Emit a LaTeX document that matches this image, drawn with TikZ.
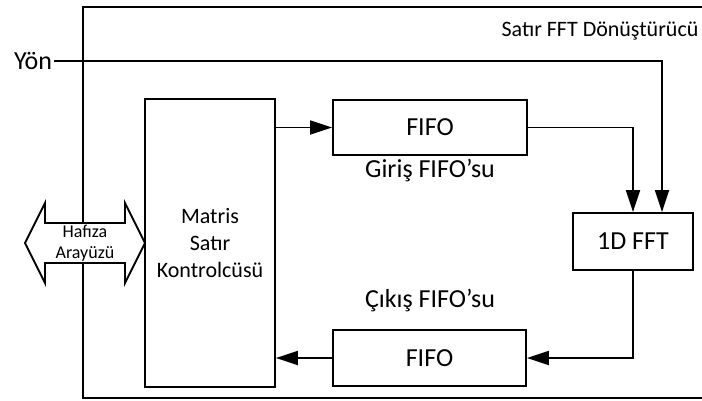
\documentclass[tikz,border=0pt]{standalone}
\usepackage{fontspec}
\setmainfont{Carlito}
\usetikzlibrary{arrows.meta}
\begin{document}
\begin{tikzpicture}[x=1pt,y=-1pt,
  line width=1.8pt,
  blk/.style={draw,rectangle,inner sep=0pt,fill=white},
  big/.style={font=\fontsize{26}{31}\selectfont},
  mid/.style={font=\fontsize{22}{27}\selectfont},
  small/.style={font=\fontsize{18}{21}\selectfont},
  flow/.style={-{Triangle[length=22pt,width=14pt]}}]
\useasboundingbox (0,0) rectangle (702,400);

% enclosing block of the row FFT converter (open to the right)
\draw (702,7) -| (83,398) -- (702,398);
\node[mid,anchor=base] (title) at (600,36) {Satır FFT Dönüştürücü};

% memory interface double arrow
\draw[fill=white] (25,243) -- (45,203) -- (45,223) -- (125,223) -- (125,203)
  -- (145,243) -- (125,283) -- (125,263) -- (45,263) -- (45,283) -- cycle;
\node[small,align=center,inner sep=0pt] (mem) at (85,243.5) {Hafıza\\Arayüzü};

% blocks
\node[blk,mid,align=center,minimum width=130pt,minimum height=288pt] (ctrl) at (210,243)
  {Matris\\Satır\\Kontrolcüsü};
\node[blk,big,minimum width=194pt,minimum height=55pt] (fifoin) at (430,127.5) {FIFO};
\node[blk,big,minimum width=193pt,minimum height=56pt] (fifoout) at (429.5,358) {FIFO};
\node[blk,big,minimum width=120pt,minimum height=57pt] (fft) at (633,241.5) {1D FFT};

\node[big,anchor=base] (inlbl) at (430,177) {Giriş FIFO’su};
\node[big,anchor=base] (outlbl) at (430,307) {Çıkış FIFO’su};

% direction input
\node[big,anchor=east,inner sep=1pt] (yon) at (54,61) {Yön};
\coordinate (yonturn) at (662,61);
\draw[flow] (yon.east) -- (yonturn) -- (yonturn |- fft.north);

% data path
\draw[flow] (ctrl.east |- fifoin.west) -- (fifoin.west);
\draw[flow] (fifoin.east) -| (fft.north);
\draw[flow] (fft.south) |- (fifoout.east);
\draw[flow] (fifoout.west) -- (ctrl.east |- fifoout.west);
\end{tikzpicture}
\end{document}
